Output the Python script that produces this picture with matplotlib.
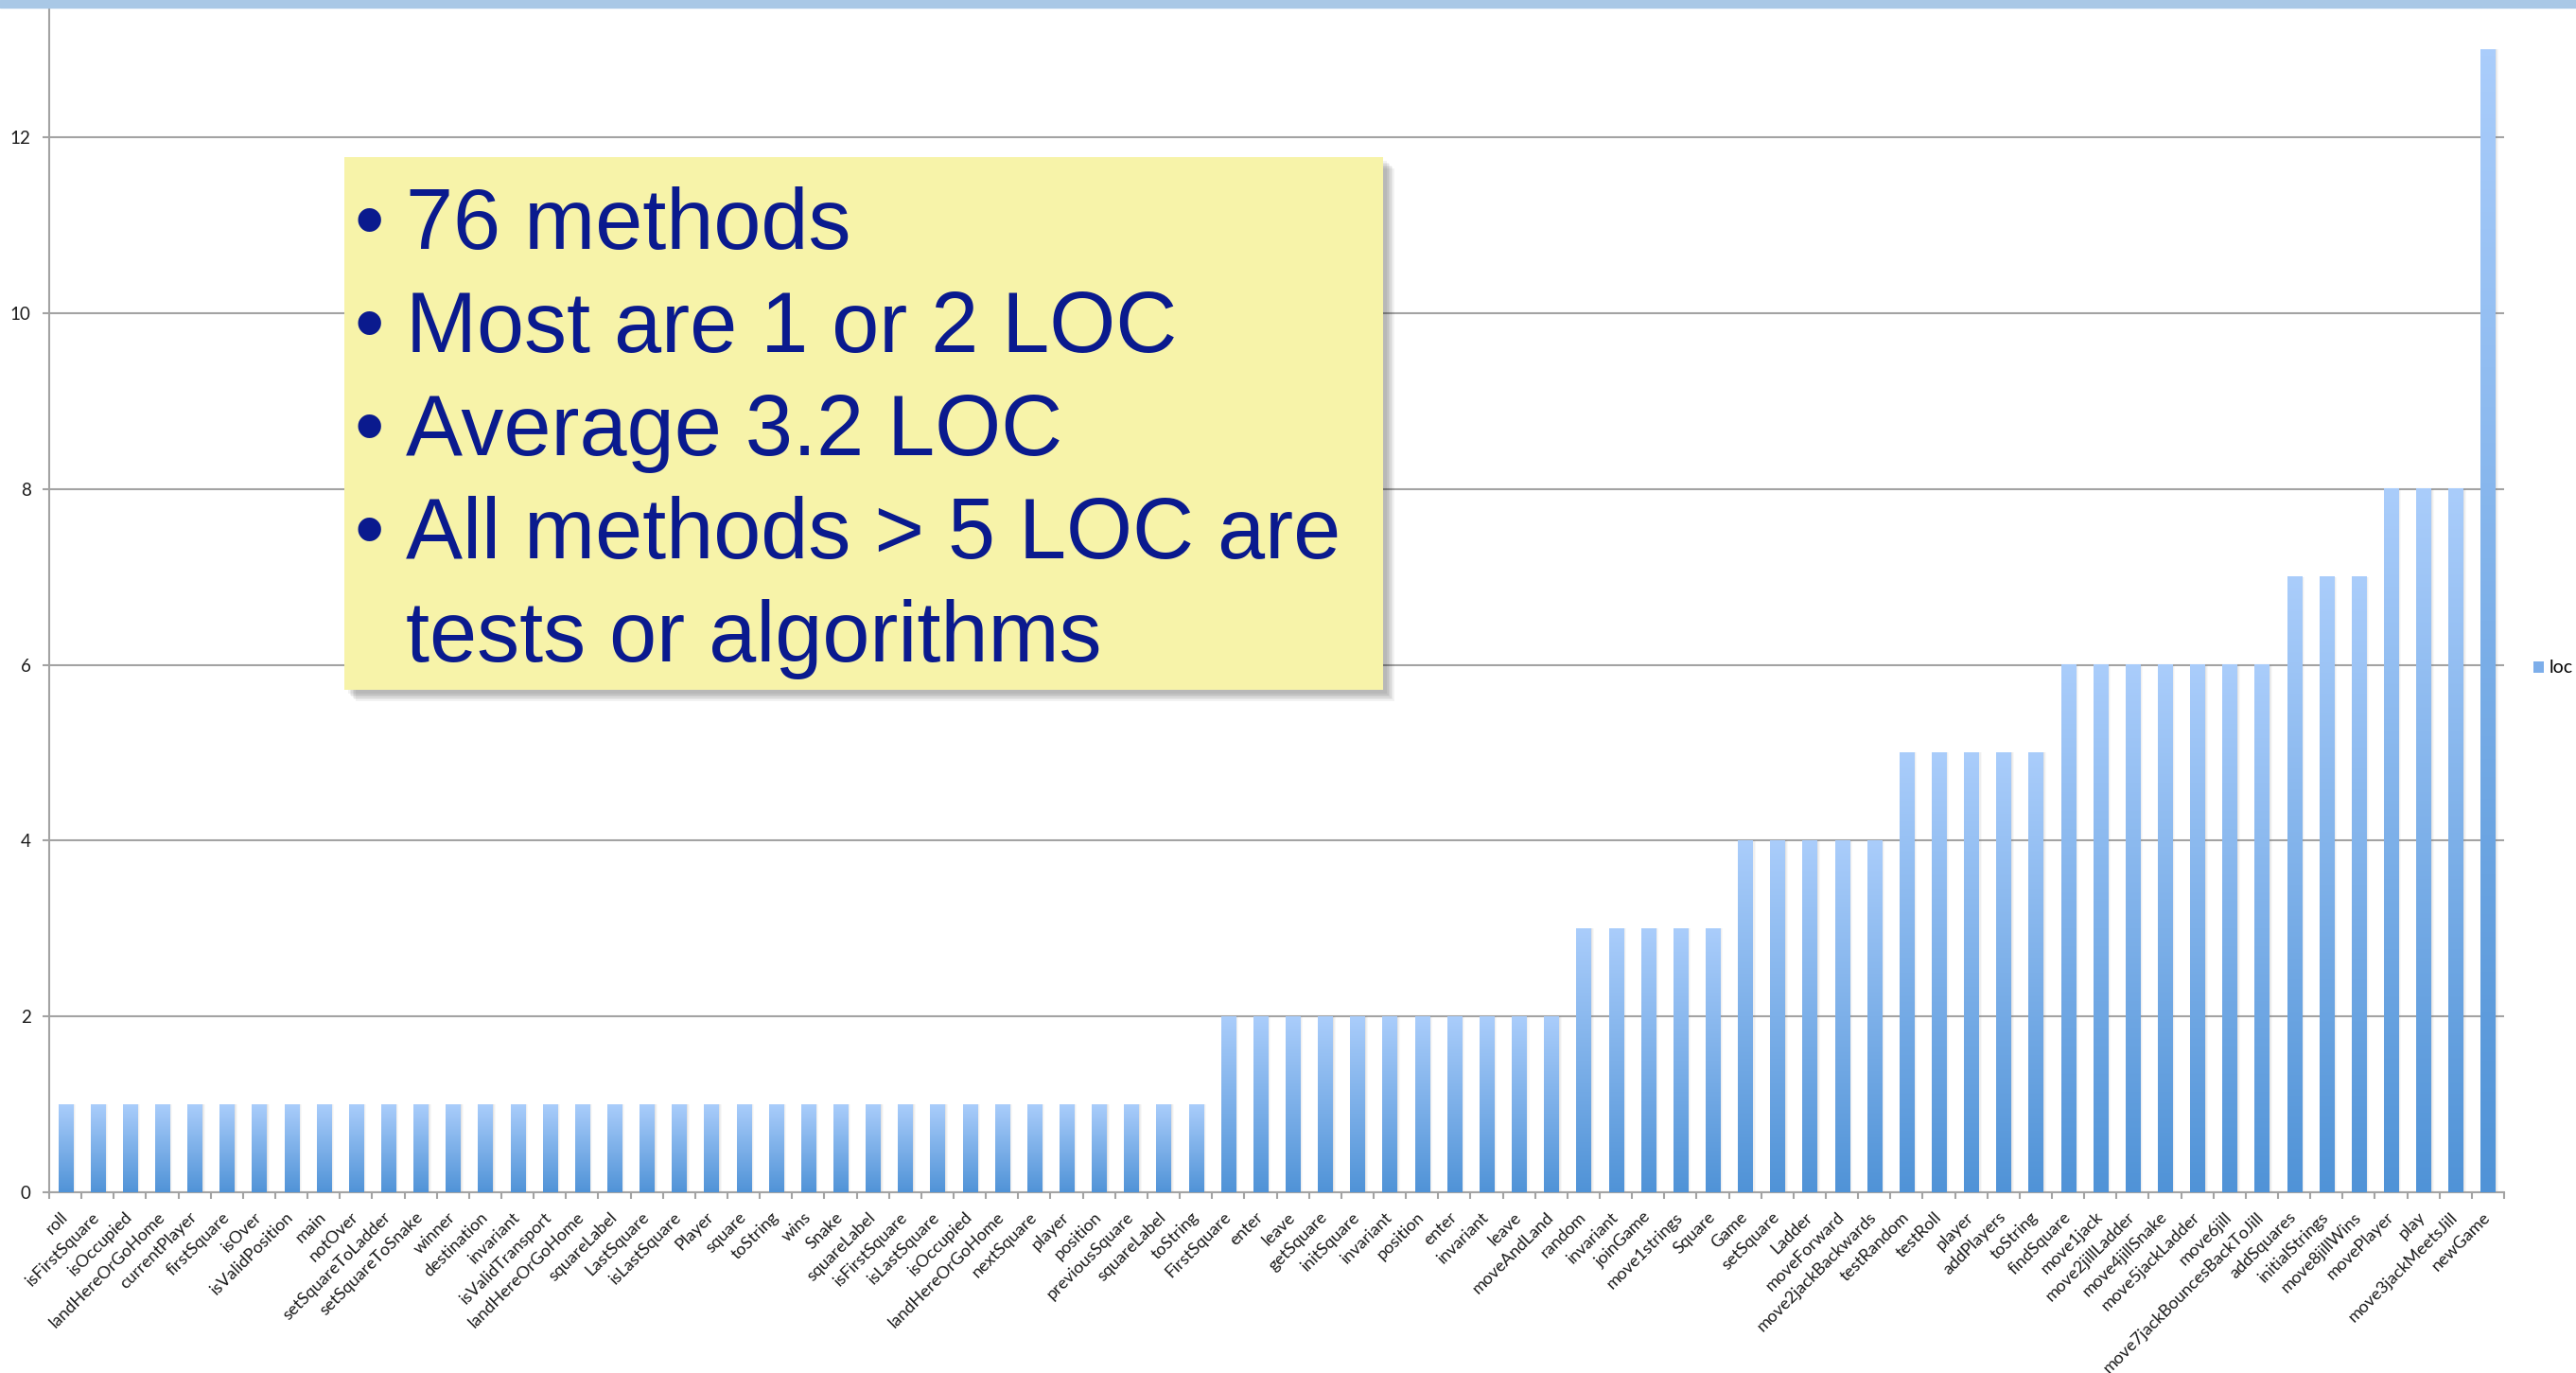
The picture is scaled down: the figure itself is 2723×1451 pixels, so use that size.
import matplotlib
matplotlib.use("Agg")
import matplotlib.pyplot as plt
import numpy as np
from matplotlib.colors import LinearSegmentedColormap
from matplotlib.patches import Rectangle

# method names in the order they appear along the x axis
methods = [
	'roll', 'isFirstSquare', 'isOccupied', 'landHereOrGoHome', 'currentPlayer',
	'firstSquare', 'isOver', 'isValidPosition', 'main', 'notOver',
	'setSquareToLadder', 'setSquareToSnake', 'winner', 'destination',
	'invariant', 'isValidTransport', 'landHereOrGoHome', 'squareLabel',
	'LastSquare', 'isLastSquare', 'Player', 'square', 'toString', 'wins',
	'Snake', 'squareLabel', 'isFirstSquare', 'isLastSquare', 'isOccupied',
	'landHereOrGoHome', 'nextSquare', 'player', 'position', 'previousSquare',
	'squareLabel', 'toString', 'FirstSquare', 'enter', 'leave', 'getSquare',
	'initSquare', 'invariant', 'position', 'enter', 'invariant', 'leave',
	'moveAndLand', 'random', 'invariant', 'joinGame', 'move1strings',
	'Square', 'Game', 'setSquare', 'Ladder', 'moveForward',
	'move2jackBackwards', 'testRandom', 'testRoll', 'player', 'addPlayers',
	'toString', 'findSquare', 'move1jack', 'move2jillLadder',
	'move4jillSnake', 'move5jackLadder', 'move6jill',
	'move7jackBouncesBackToJill', 'addSquares', 'initialStrings',
	'move8jillWins', 'movePlayer', 'play', 'move3jackMeetsJill', 'newGame',
]

loc = [1] * 36 + [2] * 11 + [3] * 5 + [4] * 5 + [5] * 5 + [6] * 7 \
	+ [7] * 3 + [8] * 3 + [13]

y_ticks = [0, 2, 4, 6, 8, 10, 12]

notes = [
	'76 methods',
	'Most are 1 or 2 LOC',
	'Average 3.2 LOC',
	'All methods > 5 LOC are',
	'tests or algorithms',
]
bulleted = [True, True, True, True, False]

W, H = 2723, 1451

def fx(px):
	return px / W

def fy(py):
	return 1 - py / H

fig = plt.figure(figsize=(W / 100, H / 100), dpi=100)
fig.patch.set_facecolor('white')

px_per_unit = (1260 - 145) / 12.0
ax = fig.add_axes([fx(52), fy(1260), fx(2647) - fx(52), fy(0) - fy(1260)])
ax.set_xlim(-0.5, len(methods) - 0.5)
ax.set_ylim(0, 1260 / px_per_unit)

grid_color = '#A3A3A3'
for s in ['top', 'right']:
	ax.spines[s].set_visible(False)
for s in ['left', 'bottom']:
	ax.spines[s].set_color(grid_color)
	ax.spines[s].set_linewidth(1.5)

ax.set_yticks(y_ticks)
ax.yaxis.grid(True, color=grid_color, linewidth=1.5)
ax.set_axisbelow(True)
ax.tick_params(axis='y', length=5, width=1.5, color=grid_color, pad=9,
	labelsize=13.5, labelcolor='#1a1a1a')
for t in ax.get_yticklabels():
	t.set_fontfamily('Lato')

x = np.arange(len(methods))

# soft shadow on the right of each bar
for k, a in enumerate([0.10, 0.07, 0.05]):
	ax.bar(x + 0.04 + 0.02 * k, loc, width=0.44 + 0.02 * k,
		color='#808080', alpha=a, zorder=1, linewidth=0)

bars = ax.bar(x, loc, width=0.44, color='#7DAEEA', zorder=2, linewidth=0,
	label='loc')

# vertical gradient on every bar, light at top, darker at the base
cmap = LinearSegmentedColormap.from_list('bar', ['#5093D7', '#AACDFB'])
grad = np.linspace(0, 1, 256).reshape(-1, 1)
for rect in bars:
	x0 = rect.get_x()
	ax.imshow(grad, extent=(x0, x0 + rect.get_width(), 0, rect.get_height()),
		origin='lower', cmap=cmap, aspect='auto', zorder=3,
		interpolation='bilinear')

ax.set_xlim(-0.5, len(methods) - 0.5)
ax.set_ylim(0, 1260 / px_per_unit)

ax.set_xticks(x)
ax.set_xticklabels(methods, rotation=45, ha='right', va='center',
	rotation_mode='anchor', fontsize=13, family='Lato', color='#1a1a1a')
ax.tick_params(axis='x', which='major', length=0, pad=17)
ax.set_xticks(np.arange(-0.5, len(methods)), minor=True)
ax.tick_params(axis='x', which='minor', length=5, width=1.5,
	color=grid_color)

leg = ax.legend(handles=[bars], labels=['loc'], loc='center left',
	bbox_to_anchor=(fx(2670), fy(706)), bbox_transform=fig.transFigure,
	frameon=False, handlelength=0.58, handleheight=0.58,
	handletextpad=0.3, borderaxespad=0, prop={'family': 'Lato', 'size': 14})

# blue strip along the top edge
fig.add_artist(Rectangle((0, fy(8)), 1, fy(0) - fy(8),
	transform=fig.transFigure, color='#A9C8E6', zorder=10))

# note box with its shadow
bx0, by0, bx1, by1 = 364, 166, 1462, 729
for k in range(6):
	off = 4 + k * 1.5
	fig.add_artist(Rectangle((fx(bx0 + off), fy(by1 + off)),
		fx(bx1) - fx(bx0), fy(by0) - fy(by1),
		transform=fig.transFigure, color='#000000', alpha=0.05,
		linewidth=0, zorder=11))
fig.add_artist(Rectangle((fx(bx0), fy(by1)), fx(bx1) - fx(bx0),
	fy(by0) - fy(by1), transform=fig.transFigure, color='#F7F3A9',
	linewidth=0, zorder=12))

baselines = [263, 372, 481, 590, 699]
for note, has_bullet, base in zip(notes, bulleted, baselines):
	if has_bullet:
		fig.text(fx(374), fy(base), '\u2022', fontsize=64.8,
			family='Liberation Sans', color='#0A1A8E', va='baseline',
			zorder=13)
	fig.text(fx(429), fy(base), note, fontsize=64.8,
		family='Liberation Sans', color='#0A1A8E', va='baseline',
		zorder=13)

fig.savefig('out.png', dpi=100)
